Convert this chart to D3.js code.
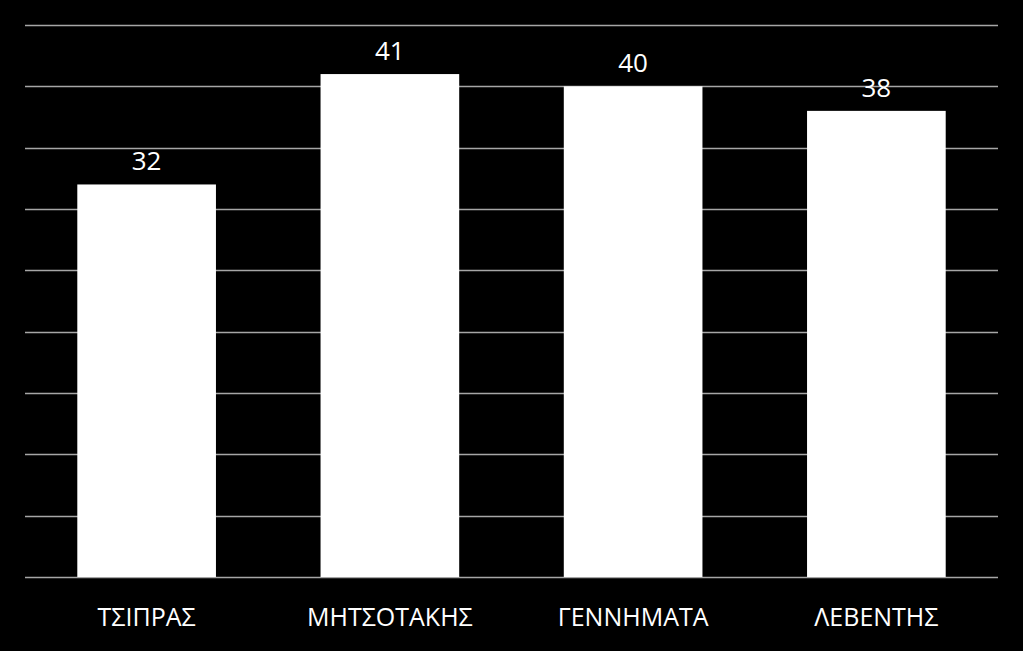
<!DOCTYPE html>
<html>
<head>
<meta charset="utf-8">
<script src="https://cdn.jsdelivr.net/npm/d3@7"></script>
<style>
  html, body { margin: 0; padding: 0; background: #000; }
  svg { display: block; }
  text { font-family: "Open Sans", "Noto Sans", sans-serif; fill: #fff; }
</style>
</head>
<body>
<svg id="chart"></svg>
<script>
var names = ['ΤΣΙΠΡΑΣ', 'ΜΗΤΣΟΤΑΚΗΣ', 'ΓΕΝΝΗΜΑΤΑ', 'ΛΕΒΕΝΤΗΣ'];
var values = [32, 41, 40, 38];
var yTicks = [0, 5, 10, 15, 20, 25, 30, 35, 40, 45];

var width = 1023,
  height = 651,
  plotLeft = 25,
  plotRight = 998,
  plotTop = 25,
  plotBottom = 577;

var svg = d3.select('#chart')
  .attr('width', width)
  .attr('height', height);

svg.append('rect')
  .attr('width', width)
  .attr('height', height)
  .attr('fill', '#000');

var x = d3.scaleBand()
  .domain(names)
  .range([plotLeft, plotRight])
  .paddingInner(0.43)
  .paddingOuter(0.215);

var y = d3.scaleLinear()
  .domain([0, 45])
  .range([plotBottom, plotTop]);

// gridlines
svg.append('g')
  .selectAll('line')
  .data(yTicks)
  .enter()
  .append('line')
  .attr('x1', plotLeft)
  .attr('x2', plotRight)
  .attr('y1', function(d) { return Math.round(y(d)) + 0.5; })
  .attr('y2', function(d) { return Math.round(y(d)) + 0.5; })
  .attr('stroke', '#a6a6a6')
  .attr('stroke-width', 1.3);

// bars
svg.append('g')
  .selectAll('rect')
  .data(values)
  .enter()
  .append('rect')
  .attr('x', function(d, i) { return x(names[i]); })
  .attr('y', function(d) { return y(d); })
  .attr('width', x.bandwidth())
  .attr('height', function(d) { return y(0) - y(d); })
  .attr('fill', '#fff');

// value labels
svg.append('g')
  .selectAll('text')
  .data(values)
  .enter()
  .append('text')
  .attr('x', function(d, i) { return x(names[i]) + x.bandwidth() / 2; })
  .attr('y', function(d) { return y(d) - 14; })
  .attr('text-anchor', 'middle')
  .style('font-size', '26px')
  .text(function(d) { return d; });

// category axis labels
svg.append('g')
  .selectAll('text')
  .data(names)
  .enter()
  .append('text')
  .attr('x', function(d) { return x(d) + x.bandwidth() / 2; })
  .attr('y', 626)
  .attr('text-anchor', 'middle')
  .style('font-size', '25px')
  .text(function(d) { return d; });
</script>
</body>
</html>
